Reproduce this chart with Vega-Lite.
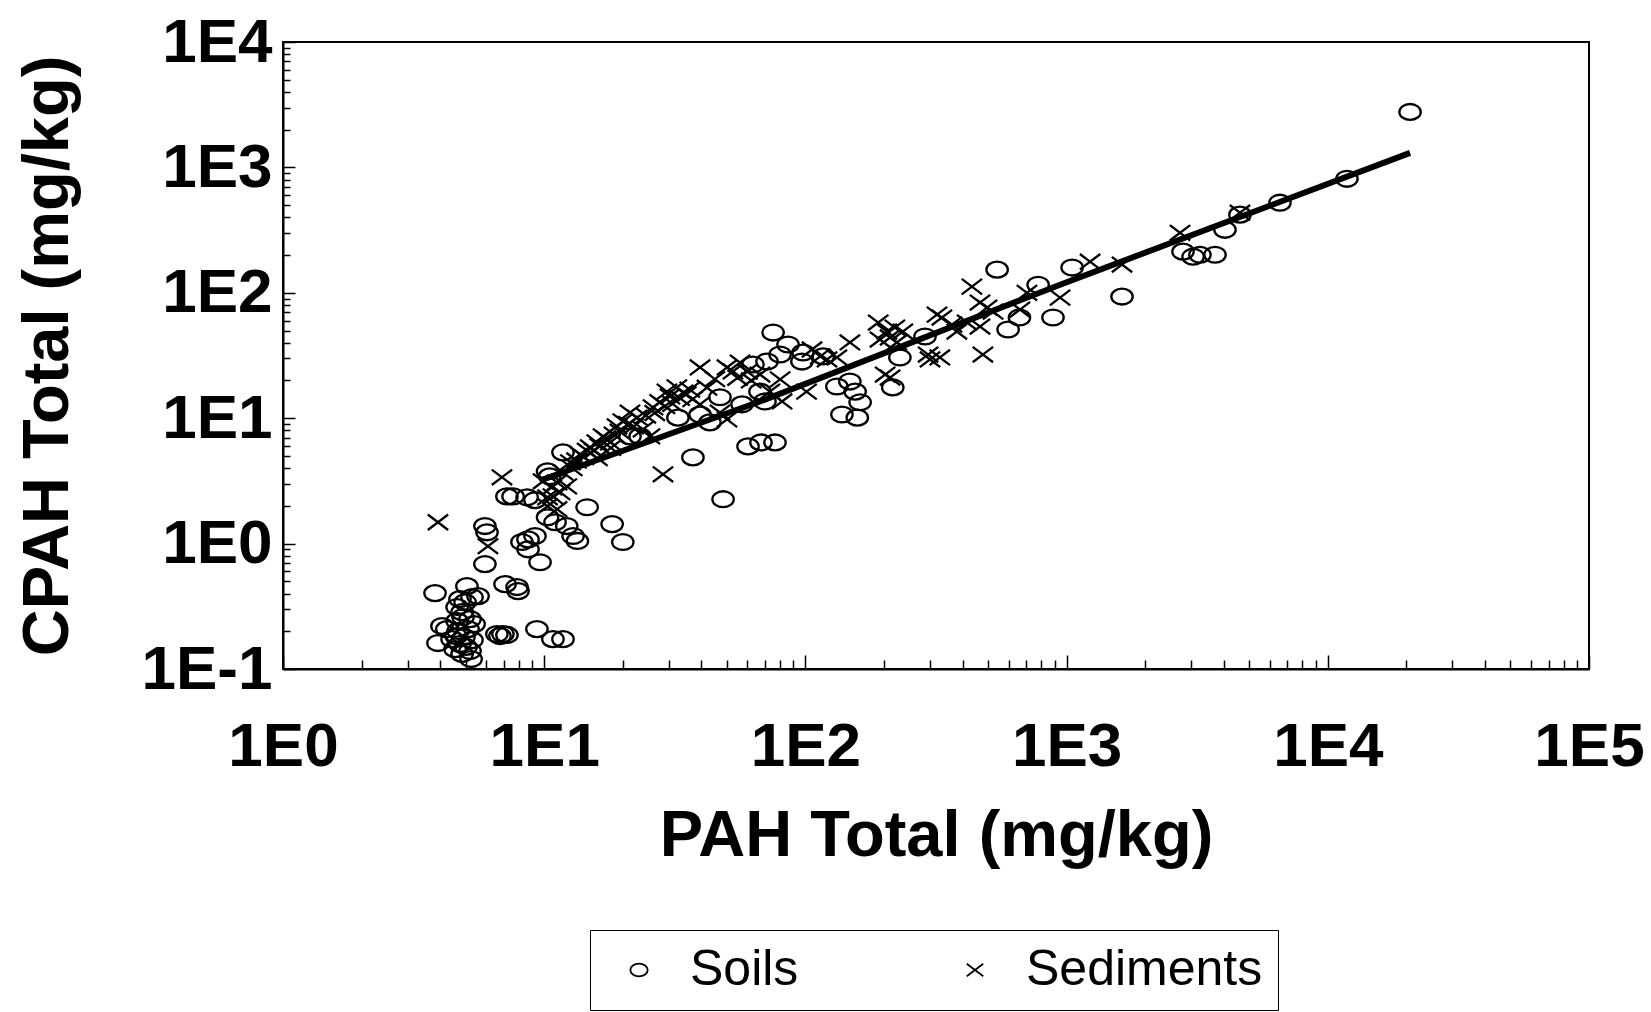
{
  "$schema": "https://vega.github.io/schema/vega-lite/v6.json",
  "width": 1306,
  "height": 627,
  "autosize": {"type": "none"},
  "padding": {"left": 283, "top": 42, "right": 62, "bottom": 343},
  "background": "white",
  "config": {"view": {"stroke": "black", "strokeWidth": 2}, "font": "Liberation Sans"},
  "datasets": {
    "samples": [
      {"type": "Soils", "pah": 3.82, "cpah": 0.403},
      {"type": "Soils", "pah": 3.92, "cpah": 0.161},
      {"type": "Soils", "pah": 4.06, "cpah": 0.22},
      {"type": "Soils", "pah": 4.24, "cpah": 0.208},
      {"type": "Soils", "pah": 4.44, "cpah": 0.173},
      {"type": "Soils", "pah": 4.56, "cpah": 0.144},
      {"type": "Soils", "pah": 4.68, "cpah": 0.201},
      {"type": "Soils", "pah": 4.76, "cpah": 0.158},
      {"type": "Soils", "pah": 4.85, "cpah": 0.132},
      {"type": "Soils", "pah": 4.93, "cpah": 0.18},
      {"type": "Soils", "pah": 5.02, "cpah": 0.15},
      {"type": "Soils", "pah": 5.11, "cpah": 0.208},
      {"type": "Soils", "pah": 5.2, "cpah": 0.139},
      {"type": "Soils", "pah": 5.29, "cpah": 0.17},
      {"type": "Soils", "pah": 5.39, "cpah": 0.228},
      {"type": "Soils", "pah": 4.64, "cpah": 0.241},
      {"type": "Soils", "pah": 4.89, "cpah": 0.26},
      {"type": "Soils", "pah": 5.25, "cpah": 0.12},
      {"type": "Soils", "pah": 4.6, "cpah": 0.183},
      {"type": "Soils", "pah": 4.76, "cpah": 0.361},
      {"type": "Soils", "pah": 4.98, "cpah": 0.341},
      {"type": "Soils", "pah": 5.29, "cpah": 0.374},
      {"type": "Soils", "pah": 5.58, "cpah": 0.381},
      {"type": "Soils", "pah": 4.64, "cpah": 0.312},
      {"type": "Soils", "pah": 4.85, "cpah": 0.284},
      {"type": "Soils", "pah": 5.2, "cpah": 0.25},
      {"type": "Soils", "pah": 5.06, "cpah": 0.458},
      {"type": "Soils", "pah": 5.93, "cpah": 1.38},
      {"type": "Soils", "pah": 6.04, "cpah": 1.23},
      {"type": "Soils", "pah": 5.93, "cpah": 0.686},
      {"type": "Soils", "pah": 7.08, "cpah": 0.475},
      {"type": "Soils", "pah": 7.87, "cpah": 0.45},
      {"type": "Soils", "pah": 7.94, "cpah": 0.418},
      {"type": "Soils", "pah": 6.59, "cpah": 0.19},
      {"type": "Soils", "pah": 6.77, "cpah": 0.183},
      {"type": "Soils", "pah": 6.95, "cpah": 0.19},
      {"type": "Soils", "pah": 7.2, "cpah": 0.187},
      {"type": "Soils", "pah": 9.38, "cpah": 0.208},
      {"type": "Soils", "pah": 10.8, "cpah": 0.173},
      {"type": "Soils", "pah": 11.8, "cpah": 0.173},
      {"type": "Soils", "pah": 7.2, "cpah": 2.38},
      {"type": "Soils", "pah": 7.6, "cpah": 2.38},
      {"type": "Soils", "pah": 8.6, "cpah": 2.34},
      {"type": "Soils", "pah": 9.22, "cpah": 2.22},
      {"type": "Soils", "pah": 8.22, "cpah": 1.03},
      {"type": "Soils", "pah": 8.67, "cpah": 1.08},
      {"type": "Soils", "pah": 9.22, "cpah": 1.15},
      {"type": "Soils", "pah": 8.67, "cpah": 0.9},
      {"type": "Soils", "pah": 9.64, "cpah": 0.71},
      {"type": "Soils", "pah": 10.3, "cpah": 3.77},
      {"type": "Soils", "pah": 10.5, "cpah": 3.44},
      {"type": "Soils", "pah": 10.3, "cpah": 1.62},
      {"type": "Soils", "pah": 11.0, "cpah": 1.48},
      {"type": "Soils", "pah": 11.8, "cpah": 5.34},
      {"type": "Soils", "pah": 12.2, "cpah": 1.38},
      {"type": "Soils", "pah": 12.9, "cpah": 1.15},
      {"type": "Soils", "pah": 13.4, "cpah": 1.05},
      {"type": "Soils", "pah": 14.6, "cpah": 1.95},
      {"type": "Soils", "pah": 18.2, "cpah": 1.43},
      {"type": "Soils", "pah": 20.0, "cpah": 1.03},
      {"type": "Soils", "pah": 23.3, "cpah": 7.16},
      {"type": "Soils", "pah": 21.3, "cpah": 7.16},
      {"type": "Soils", "pah": 37.1, "cpah": 4.87},
      {"type": "Soils", "pah": 48.4, "cpah": 2.26},
      {"type": "Soils", "pah": 60.3, "cpah": 5.96},
      {"type": "Soils", "pah": 67.6, "cpah": 6.41},
      {"type": "Soils", "pah": 76.5, "cpah": 6.41},
      {"type": "Soils", "pah": 47.1, "cpah": 14.7},
      {"type": "Soils", "pah": 57.2, "cpah": 12.9},
      {"type": "Soils", "pah": 71.3, "cpah": 28.3},
      {"type": "Soils", "pah": 75.2, "cpah": 48.2},
      {"type": "Soils", "pah": 80, "cpah": 32.2},
      {"type": "Soils", "pah": 43.1, "cpah": 9.26},
      {"type": "Soils", "pah": 32.5, "cpah": 10.1},
      {"type": "Soils", "pah": 39.5, "cpah": 10.7},
      {"type": "Soils", "pah": 63, "cpah": 26.8},
      {"type": "Soils", "pah": 70, "cpah": 13.6},
      {"type": "Soils", "pah": 67, "cpah": 16.3},
      {"type": "Soils", "pah": 85.8, "cpah": 38.7},
      {"type": "Soils", "pah": 97, "cpah": 28.3},
      {"type": "Soils", "pah": 98, "cpah": 33.4},
      {"type": "Soils", "pah": 117, "cpah": 31.1},
      {"type": "Soils", "pah": 132, "cpah": 17.9},
      {"type": "Soils", "pah": 148, "cpah": 19.6},
      {"type": "Soils", "pah": 155, "cpah": 16.3},
      {"type": "Soils", "pah": 162, "cpah": 13.4},
      {"type": "Soils", "pah": 138, "cpah": 10.7},
      {"type": "Soils", "pah": 158, "cpah": 10.1},
      {"type": "Soils", "pah": 216, "cpah": 17.6},
      {"type": "Soils", "pah": 230, "cpah": 30.5},
      {"type": "Soils", "pah": 287, "cpah": 44.8},
      {"type": "Soils", "pah": 542, "cpah": 153},
      {"type": "Soils", "pah": 597, "cpah": 51},
      {"type": "Soils", "pah": 660, "cpah": 63.5},
      {"type": "Soils", "pah": 778, "cpah": 116},
      {"type": "Soils", "pah": 887, "cpah": 63.5},
      {"type": "Soils", "pah": 1050, "cpah": 159},
      {"type": "Soils", "pah": 1630, "cpah": 93.3},
      {"type": "Soils", "pah": 2790, "cpah": 213},
      {"type": "Soils", "pah": 3050, "cpah": 194},
      {"type": "Soils", "pah": 3240, "cpah": 201},
      {"type": "Soils", "pah": 3700, "cpah": 201},
      {"type": "Soils", "pah": 4040, "cpah": 318},
      {"type": "Soils", "pah": 4610, "cpah": 420},
      {"type": "Soils", "pah": 6560, "cpah": 523},
      {"type": "Soils", "pah": 11840, "cpah": 811},
      {"type": "Soils", "pah": 20650, "cpah": 2770},
      {"type": "Sediments", "pah": 3.92, "cpah": 1.48},
      {"type": "Sediments", "pah": 6.89, "cpah": 3.38},
      {"type": "Sediments", "pah": 6.09, "cpah": 0.953},
      {"type": "Sediments", "pah": 9.9, "cpah": 3.14},
      {"type": "Sediments", "pah": 10.7, "cpah": 2.81},
      {"type": "Sediments", "pah": 11.5, "cpah": 2.57},
      {"type": "Sediments", "pah": 10.3, "cpah": 2.34},
      {"type": "Sediments", "pah": 11.2, "cpah": 1.88},
      {"type": "Sediments", "pah": 12.2, "cpah": 2.86},
      {"type": "Sediments", "pah": 12.6, "cpah": 4.45},
      {"type": "Sediments", "pah": 11.8, "cpah": 3.7},
      {"type": "Sediments", "pah": 11.2, "cpah": 3.08},
      {"type": "Sediments", "pah": 13.7, "cpah": 5.15},
      {"type": "Sediments", "pah": 15.0, "cpah": 5.86},
      {"type": "Sediments", "pah": 15.9, "cpah": 6.41},
      {"type": "Sediments", "pah": 16.8, "cpah": 7.16},
      {"type": "Sediments", "pah": 17.9, "cpah": 6.41},
      {"type": "Sediments", "pah": 19.0, "cpah": 8.61},
      {"type": "Sediments", "pah": 20.0, "cpah": 9.43},
      {"type": "Sediments", "pah": 21.3, "cpah": 11.1},
      {"type": "Sediments", "pah": 22.7, "cpah": 10.1},
      {"type": "Sediments", "pah": 23.9, "cpah": 8.15},
      {"type": "Sediments", "pah": 25.4, "cpah": 7.16},
      {"type": "Sediments", "pah": 26.1, "cpah": 12.2},
      {"type": "Sediments", "pah": 27.7, "cpah": 13.4},
      {"type": "Sediments", "pah": 29.5, "cpah": 16.3},
      {"type": "Sediments", "pah": 30.3, "cpah": 14.9},
      {"type": "Sediments", "pah": 32.2, "cpah": 17.6},
      {"type": "Sediments", "pah": 34.0, "cpah": 16.0},
      {"type": "Sediments", "pah": 36.1, "cpah": 16.9},
      {"type": "Sediments", "pah": 39.5, "cpah": 25.4},
      {"type": "Sediments", "pah": 28.5, "cpah": 3.57},
      {"type": "Sediments", "pah": 39.5, "cpah": 12.9},
      {"type": "Sediments", "pah": 47.1, "cpah": 11.1},
      {"type": "Sediments", "pah": 50.1, "cpah": 9.78},
      {"type": "Sediments", "pah": 50.1, "cpah": 25.4},
      {"type": "Sediments", "pah": 52.8, "cpah": 23.6},
      {"type": "Sediments", "pah": 56.2, "cpah": 27.8},
      {"type": "Sediments", "pah": 67, "cpah": 22.3},
      {"type": "Sediments", "pah": 80, "cpah": 20.4},
      {"type": "Sediments", "pah": 73.1, "cpah": 16.3},
      {"type": "Sediments", "pah": 81.4, "cpah": 13.6},
      {"type": "Sediments", "pah": 101, "cpah": 16.3},
      {"type": "Sediments", "pah": 106, "cpah": 35.3},
      {"type": "Sediments", "pah": 114, "cpah": 31.1},
      {"type": "Sediments", "pah": 121, "cpah": 29.4},
      {"type": "Sediments", "pah": 132, "cpah": 30.5},
      {"type": "Sediments", "pah": 148, "cpah": 40.2},
      {"type": "Sediments", "pah": 190, "cpah": 57.9},
      {"type": "Sediments", "pah": 205, "cpah": 49.1},
      {"type": "Sediments", "pah": 220, "cpah": 52.8},
      {"type": "Sediments", "pah": 236, "cpah": 49.1},
      {"type": "Sediments", "pah": 193, "cpah": 42.4},
      {"type": "Sediments", "pah": 211, "cpah": 44},
      {"type": "Sediments", "pah": 224, "cpah": 40.2},
      {"type": "Sediments", "pah": 202, "cpah": 22.3},
      {"type": "Sediments", "pah": 211, "cpah": 21.1},
      {"type": "Sediments", "pah": 295, "cpah": 32.2},
      {"type": "Sediments", "pah": 327, "cpah": 30.5},
      {"type": "Sediments", "pah": 300, "cpah": 29.4},
      {"type": "Sediments", "pah": 333, "cpah": 63.5},
      {"type": "Sediments", "pah": 364, "cpah": 55.8},
      {"type": "Sediments", "pah": 380, "cpah": 49.1},
      {"type": "Sediments", "pah": 319, "cpah": 67},
      {"type": "Sediments", "pah": 434, "cpah": 112},
      {"type": "Sediments", "pah": 466, "cpah": 83.6},
      {"type": "Sediments", "pah": 496, "cpah": 76.2},
      {"type": "Sediments", "pah": 523, "cpah": 70.8},
      {"type": "Sediments", "pah": 478, "cpah": 32.2},
      {"type": "Sediments", "pah": 466, "cpah": 53.8},
      {"type": "Sediments", "pah": 416, "cpah": 57.9},
      {"type": "Sediments", "pah": 663, "cpah": 73.5},
      {"type": "Sediments", "pah": 705, "cpah": 100},
      {"type": "Sediments", "pah": 944, "cpah": 91.6},
      {"type": "Sediments", "pah": 1230, "cpah": 177},
      {"type": "Sediments", "pah": 1630, "cpah": 168},
      {"type": "Sediments", "pah": 2718, "cpah": 301},
      {"type": "Sediments", "pah": 4610, "cpah": 435},
      {"type": "Sediments", "pah": 10.8, "cpah": 2.38},
      {"type": "Sediments", "pah": 10.3, "cpah": 1.99},
      {"type": "Sediments", "pah": 12.8, "cpah": 4.0},
      {"type": "Sediments", "pah": 13.3, "cpah": 4.6},
      {"type": "Sediments", "pah": 14.2, "cpah": 4.9},
      {"type": "Sediments", "pah": 14.6, "cpah": 5.5},
      {"type": "Sediments", "pah": 15.5, "cpah": 5.5},
      {"type": "Sediments", "pah": 16.3, "cpah": 6.0},
      {"type": "Sediments", "pah": 17.2, "cpah": 6.9},
      {"type": "Sediments", "pah": 18.5, "cpah": 7.4},
      {"type": "Sediments", "pah": 19.5, "cpah": 7.8},
      {"type": "Sediments", "pah": 21.0, "cpah": 9.0},
      {"type": "Sediments", "pah": 22.0, "cpah": 8.6},
      {"type": "Sediments", "pah": 24.5, "cpah": 10.5},
      {"type": "Sediments", "pah": 26.5, "cpah": 11.0},
      {"type": "Sediments", "pah": 29.0, "cpah": 12.5},
      {"type": "Sediments", "pah": 31.0, "cpah": 13.0},
      {"type": "Sediments", "pah": 33.0, "cpah": 14.5},
      {"type": "Sediments", "pah": 35.0, "cpah": 15.5},
      {"type": "Sediments", "pah": 37.0, "cpah": 14.2},
      {"type": "Sediments", "pah": 42.0, "cpah": 17.5},
      {"type": "Sediments", "pah": 45.0, "cpah": 20.5},
      {"type": "Sediments", "pah": 55.0, "cpah": 21.0},
      {"type": "Sediments", "pah": 60.0, "cpah": 23.5},
      {"type": "Sediments", "pah": 62.0, "cpah": 20.0},
      {"type": "Sediments", "pah": 16.0, "cpah": 4.8},
      {"type": "Sediments", "pah": 18.0, "cpah": 5.8}
    ],
    "fit": [
      {"pah": 9.7, "cpah": 3.2},
      {"pah": 67, "cpah": 13.6},
      {"pah": 944, "cpah": 116},
      {"pah": 20650, "cpah": 1306}
    ]
  },
  "encoding": {
    "x": {
      "field": "pah",
      "type": "quantitative",
      "scale": {"type": "log", "domain": [1, 100000], "nice": false},
      "axis": {
        "title": "PAH Total (mg/kg)",
        "grid": false,
        "values": [1,2,3,4,5,6,7,8,9,10,20,30,40,50,60,70,80,90,100,200,300,400,500,600,700,800,900,1000,2000,3000,4000,5000,6000,7000,8000,9000,10000,20000,30000,40000,50000,60000,70000,80000,90000,100000],
        "labelExpr": "abs(log(datum.value)/LN10 - round(log(datum.value)/LN10)) < 0.0001 ? '1E' + round(log(datum.value)/LN10) : ''",
        "tickSize": {"condition": {"test": "abs(log(datum.value)/LN10 - round(log(datum.value)/LN10)) < 0.0001", "value": -14}, "value": -9},
        "tickColor": "black",
        "tickWidth": 1.5,
        "domainColor": "black",
        "domainWidth": 2,
        "labelFont": "Liberation Sans",
        "labelFontSize": 62,
        "labelFontWeight": "bold",
        "labelColor": "black",
        "labelPadding": 61,
        "labelOverlap": false,
        "labelFlush": false,
        "labelBound": false,
        "titleFont": "Liberation Sans",
        "titleFontSize": 65,
        "titleFontWeight": "bold",
        "titleColor": "black",
        "titlePadding": 22
      }
    },
    "y": {
      "field": "cpah",
      "type": "quantitative",
      "scale": {"type": "log", "domain": [0.1, 10000], "nice": false},
      "axis": {
        "title": "CPAH Total (mg/kg)",
        "grid": false,
        "values": [0.1,0.2,0.3,0.4,0.5,0.6,0.7,0.8,0.9,1,2,3,4,5,6,7,8,9,10,20,30,40,50,60,70,80,90,100,200,300,400,500,600,700,800,900,1000,2000,3000,4000,5000,6000,7000,8000,9000,10000],
        "labelExpr": "abs(log(datum.value)/LN10 - round(log(datum.value)/LN10)) < 0.0001 ? '1E' + round(log(datum.value)/LN10) : ''",
        "tickSize": {"condition": {"test": "abs(log(datum.value)/LN10 - round(log(datum.value)/LN10)) < 0.0001", "value": -12}, "value": -7},
        "tickColor": "black",
        "tickWidth": 1.5,
        "domainColor": "black",
        "domainWidth": 2,
        "labelFont": "Liberation Sans",
        "labelFontSize": 62,
        "labelFontWeight": "bold",
        "labelColor": "black",
        "labelPadding": 23,
        "labelOverlap": false,
        "labelFlush": false,
        "labelBound": false,
        "titleFont": "Liberation Sans",
        "titleFontSize": 65,
        "titleFontWeight": "bold",
        "titleColor": "black",
        "titlePadding": 60
      }
    }
  },
  "layer": [
    {
      "data": {"name": "samples"},
      "mark": {"type": "point", "filled": false, "color": "black", "strokeWidth": 2.3, "size": 460, "opacity": 1},
      "encoding": {
        "shape": {
          "field": "type",
          "type": "nominal",
          "scale": {
            "domain": ["Soils", "Sediments"],
            "range": ["M -1 0 A 1 0.74 0 1 1 1 0 A 1 0.74 0 1 1 -1 0 Z", "M -0.95 -0.72 L 0.95 0.72 M -0.95 0.72 L 0.95 -0.72"]
          },
          "legend": {
            "title": null,
            "orient": "none",
            "legendX": 307,
            "legendY": 888,
            "direction": "horizontal",
            "columns": 2,
            "gridAlign": "all",
            "columnPadding": 14,
            "padding": 15,
            "symbolOffset": 9,
            "labelOffset": 26,
            "labelLimit": 500,
            "labelFont": "Liberation Sans",
            "labelFontSize": 50,
            "labelColor": "black",
            "symbolSize": 300,
            "symbolStrokeColor": "black",
            "symbolFillColor": "transparent",
            "symbolStrokeWidth": 1.8,
            "strokeColor": "black",
            "fillColor": "white",
            "encode": {"legend": {"update": {"strokeWidth": {"value": 2.5}}}}
          }
        }
      }
    },
    {
      "data": {"name": "fit"},
      "mark": {"type": "line", "color": "black", "strokeWidth": 6},
      "encoding": {}
    }
  ]
}
